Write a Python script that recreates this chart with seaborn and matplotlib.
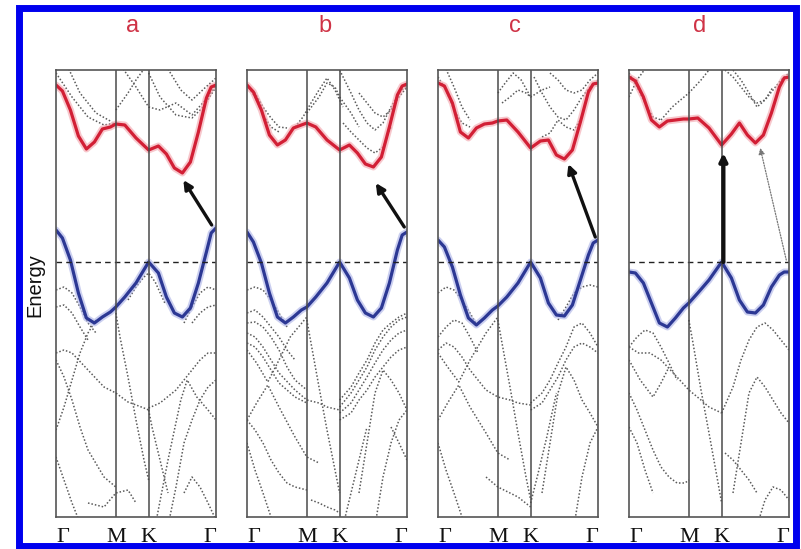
import matplotlib
matplotlib.use("Agg")
import matplotlib.pyplot as plt
import seaborn as sns
import pandas as pd
from matplotlib.patches import Rectangle

# ---------------- data ----------------
panels = ["a", "b", "c", "d"]
k_ticks = [0.0, 0.374, 0.579, 1.0]
k_labels = ["Γ", "M", "K", "Γ"]

k_main = [0, 0.04, 0.09, 0.14, 0.19, 0.24, 0.29, 0.34, 0.374, 0.43, 0.50,
          0.579, 0.64, 0.69, 0.74, 0.79, 0.84, 0.89, 0.94, 0.97, 1.0]

red_a = [1.77, 1.71, 1.52, 1.26, 1.13, 1.20, 1.33, 1.35, 1.38, 1.37, 1.24,
         1.12, 1.16, 1.08, 0.94, 0.89, 1.00, 1.30, 1.64, 1.75, 1.77]
red_b = [1.77, 1.70, 1.52, 1.27, 1.17, 1.22, 1.34, 1.37, 1.39, 1.35, 1.22,
         1.12, 1.17, 1.09, 0.98, 0.95, 1.05, 1.35, 1.67, 1.76, 1.78]
red_c = [1.79, 1.76, 1.59, 1.30, 1.24, 1.34, 1.38, 1.39, 1.41, 1.42, 1.30,
         1.14, 1.21, 1.22, 1.07, 1.03, 1.12, 1.40, 1.70, 1.78, 1.79]
red_d = [1.85, 1.81, 1.65, 1.42, 1.35, 1.41, 1.42, 1.43, 1.43, 1.44, 1.34,
         1.17, 1.28, 1.39, 1.27, 1.19, 1.27, 1.49, 1.75, 1.84, 1.85]

blue_a = [0.32, 0.24, 0.02, -0.31, -0.56, -0.61, -0.55, -0.50, -0.45, -0.35, -0.21,
          0.0, -0.11, -0.35, -0.51, -0.55, -0.46, -0.21, 0.10, 0.29, 0.34]
blue_b = [0.30, 0.20, -0.01, -0.31, -0.55, -0.61, -0.55, -0.48, -0.45, -0.35, -0.21,
          0.0, -0.16, -0.38, -0.51, -0.55, -0.46, -0.21, 0.12, 0.27, 0.30]
blue_c = [0.22, 0.15, -0.05, -0.33, -0.56, -0.63, -0.56, -0.48, -0.44, -0.35, -0.21,
          0.0, -0.16, -0.41, -0.53, -0.54, -0.43, -0.18, 0.07, 0.19, 0.22]
blue_d = [-0.10, -0.11, -0.21, -0.41, -0.61, -0.65, -0.56, -0.46, -0.41, -0.31, -0.18,
          0.0, -0.16, -0.38, -0.50, -0.51, -0.43, -0.25, -0.13, -0.10, -0.10]

# other (dotted) bands: (k list, E list)
other_a = [
    ([0, 0.1, 0.2, 0.3, 0.374], [1.89, 1.65, 1.45, 1.37, 1.39]),
    ([0.08, 0.15, 0.25, 0.35], [1.93, 1.69, 1.49, 1.40]),
    ([0.374, 0.45, 0.5, 0.55], [1.52, 1.69, 1.82, 1.93]),
    ([0.42, 0.5, 0.579, 0.65, 0.75, 0.85, 0.95, 1.0], [1.93, 1.75, 1.55, 1.52, 1.59, 1.47, 1.65, 1.77]),
    ([0.579, 0.65, 0.75, 0.85, 0.92, 1.0], [1.89, 1.65, 1.47, 1.44, 1.55, 1.75]),
    ([0.7, 0.78, 0.85, 0.93, 1.0], [1.93, 1.72, 1.62, 1.74, 1.84]),
    ([0, 0.05, 0.1, 0.15, 0.2, 0.25], [-0.28, -0.25, -0.31, -0.45, -0.61, -0.71]),
    ([0, 0.05, 0.1, 0.15, 0.2], [-0.45, -0.43, -0.51, -0.65, -0.78]),
    ([0.8, 0.85, 0.9, 0.95, 1.0], [-0.61, -0.45, -0.31, -0.25, -0.28]),
    ([0.85, 0.9, 0.95, 1.0], [-0.61, -0.51, -0.45, -0.43]),
    ([0.45, 0.5, 0.55, 0.579, 0.62, 0.68], [-0.38, -0.25, -0.15, -0.11, -0.20, -0.41]),
    ([0, 0.05, 0.1, 0.2, 0.3, 0.374, 0.45, 0.55, 0.579], [-0.91, -0.88, -0.91, -1.08, -1.25, -1.31, -1.40, -1.46, -1.48]),
    ([0.579, 0.65, 0.75, 0.85, 0.9, 0.95, 1.0], [-1.46, -1.41, -1.28, -1.08, -0.98, -0.91, -0.91]),
    ([0, 0.05, 0.1, 0.15, 0.2, 0.25], [-1.68, -1.45, -1.18, -0.91, -0.71, -0.58]),
    ([0, 0.05, 0.1, 0.15, 0.2, 0.3, 0.374], [-0.98, -1.15, -1.38, -1.65, -1.88, -2.15, -2.25]),
    ([0.374, 0.4, 0.45, 0.5, 0.55, 0.579], [-0.51, -0.75, -1.15, -1.58, -1.98, -2.18]),
    ([0, 0.05, 0.1, 0.15], [-1.95, -2.18, -2.41, -2.61]),
    ([0.2, 0.3, 0.374, 0.45, 0.5], [-2.41, -2.45, -2.31, -2.28, -2.41]),
    ([0.62, 0.7, 0.78, 0.82, 0.88, 0.95, 1.0], [-2.64, -1.98, -1.38, -1.18, -1.35, -1.48, -1.58]),
    ([0.7, 0.75, 0.8, 0.85, 0.9, 0.95, 1.0], [-2.64, -2.25, -1.81, -1.58, -1.38, -1.25, -1.18]),
    ([0.579, 0.6, 0.65, 0.7], [-1.48, -1.65, -1.98, -2.31]),
    ([0.8, 0.85, 0.9, 0.95, 1.0], [-2.31, -2.15, -2.25, -2.41, -2.58]),
]
other_b = [
    ([0, 0.05, 0.1, 0.15, 0.2, 0.25], [1.77, 1.69, 1.55, 1.44, 1.35, 1.34]),
    ([0, 0.05, 0.1, 0.15, 0.2], [1.77, 1.65, 1.47, 1.35, 1.30]),
    ([0.3, 0.35, 0.4, 0.45, 0.5, 0.55, 0.6], [1.35, 1.45, 1.59, 1.72, 1.84, 1.72, 1.55]),
    ([0.374, 0.45, 0.5, 0.55, 0.579, 0.65, 0.7], [1.49, 1.65, 1.79, 1.75, 1.65, 1.49, 1.35]),
    ([0.579, 0.65, 0.7, 0.75, 0.8, 0.85, 0.9, 0.95, 1.0], [1.92, 1.69, 1.52, 1.39, 1.32, 1.39, 1.55, 1.69, 1.77]),
    ([0.6, 0.65, 0.7, 0.75, 0.8, 0.85, 0.9], [1.39, 1.30, 1.22, 1.14, 1.09, 1.15, 1.35]),
    ([0.7, 0.75, 0.8, 0.85, 0.9, 0.95, 1.0], [1.69, 1.59, 1.49, 1.45, 1.52, 1.65, 1.75]),
    ([0, 0.05, 0.1, 0.15, 0.2, 0.25], [-0.28, -0.25, -0.28, -0.38, -0.51, -0.65]),
    ([0, 0.05, 0.1, 0.15, 0.2, 0.25, 0.3], [-0.51, -0.48, -0.55, -0.65, -0.75, -0.88, -0.98]),
    ([0, 0.05, 0.1, 0.15, 0.2, 0.25, 0.3, 0.374], [-0.61, -0.60, -0.65, -0.75, -0.88, -1.05, -1.18, -1.28]),
    ([0, 0.05, 0.1, 0.15, 0.2, 0.3, 0.374, 0.45, 0.5, 0.579], [-0.71, -0.75, -0.85, -0.98, -1.11, -1.28, -1.38, -1.41, -1.45, -1.48]),
    ([0, 0.05, 0.1, 0.15, 0.2, 0.3, 0.374], [-0.81, -0.85, -0.95, -1.08, -1.21, -1.35, -1.41]),
    ([0, 0.06, 0.13, 0.2, 0.27, 0.374], [-0.88, -1.01, -1.20, -0.98, -0.75, -0.55]),
    ([0, 0.06, 0.13, 0.2, 0.3, 0.374, 0.45], [-1.58, -1.41, -1.23, -1.45, -1.75, -1.95, -2.01]),
    ([0.374, 0.4, 0.45, 0.5, 0.55, 0.579], [-0.58, -0.81, -1.25, -1.68, -2.08, -2.31]),
    ([0.579, 0.65, 0.7, 0.75, 0.8, 0.85, 0.9, 0.95, 1.0], [-1.45, -1.31, -1.18, -1.05, -0.88, -0.75, -0.65, -0.58, -0.55]),
    ([0.579, 0.65, 0.7, 0.75, 0.8, 0.85, 0.9, 0.95, 1.0], [-1.51, -1.41, -1.28, -1.15, -1.01, -0.88, -0.78, -0.71, -0.68]),
    ([0.579, 0.65, 0.7, 0.75, 0.8, 0.85, 0.9, 0.95, 1.0], [-1.58, -1.51, -1.38, -1.28, -1.15, -1.05, -0.95, -0.88, -0.85]),
    ([0.579, 0.65, 0.7, 0.75, 0.8, 0.85, 0.9, 0.95, 1.0], [-1.38, -1.25, -1.11, -0.98, -0.81, -0.68, -0.61, -0.55, -0.51]),
    ([0.7, 0.75, 0.8, 0.85, 0.9, 0.95, 1.0], [-2.31, -1.81, -1.31, -1.08, -1.18, -1.31, -1.48]),
    ([0.8, 0.85, 0.9, 0.95, 1.0], [-2.64, -2.15, -1.81, -1.58, -1.48]),
    ([0, 0.05, 0.1, 0.15, 0.2, 0.25, 0.3, 0.374], [-1.58, -1.68, -1.81, -1.98, -2.11, -2.21, -2.25, -2.28]),
    ([0, 0.05, 0.1, 0.15], [-1.81, -2.08, -2.31, -2.55]),
    ([0.4, 0.45, 0.5, 0.55, 0.579], [-2.38, -2.41, -2.45, -2.48, -2.51]),
    ([0.6, 0.65, 0.7, 0.75], [-2.64, -2.31, -1.98, -1.65]),
    ([0.9, 0.95, 1.0], [-1.65, -1.81, -1.98]),
]
other_c = [
    ([0, 0.05, 0.1, 0.15, 0.2], [1.85, 1.72, 1.52, 1.39, 1.35]),
    ([0.05, 0.1, 0.15, 0.2], [1.93, 1.75, 1.55, 1.42]),
    ([0.374, 0.42, 0.47, 0.52, 0.579], [1.69, 1.79, 1.89, 1.82, 1.65]),
    ([0.4, 0.45, 0.5, 0.55, 0.579, 0.65, 0.7], [1.59, 1.65, 1.72, 1.69, 1.65, 1.72, 1.75]),
    ([0.6, 0.65, 0.7, 0.75, 0.8, 0.85, 0.9, 0.95, 1.0], [1.85, 1.69, 1.55, 1.45, 1.42, 1.52, 1.65, 1.75, 1.82]),
    ([0.65, 0.7, 0.75, 0.8, 0.85, 0.9], [1.25, 1.29, 1.42, 1.35, 1.32, 1.45]),
    ([0.7, 0.75, 0.8, 0.85, 0.9, 0.95, 1.0], [1.89, 1.82, 1.72, 1.69, 1.72, 1.82, 1.89]),
    ([0, 0.05, 0.1, 0.15, 0.2, 0.25], [-0.31, -0.25, -0.28, -0.38, -0.51, -0.65]),
    ([0.75, 0.8, 0.85, 0.9, 0.95, 1.0], [-0.58, -0.45, -0.31, -0.25, -0.23, -0.25]),
    ([0, 0.05, 0.1, 0.15, 0.2, 0.25], [-0.75, -0.65, -0.58, -0.61, -0.75, -0.91]),
    ([0, 0.05, 0.1, 0.15, 0.2, 0.3, 0.374, 0.45, 0.5, 0.579], [-0.88, -0.81, -0.85, -0.95, -1.08, -1.28, -1.35, -1.38, -1.41, -1.43]),
    ([0, 0.06, 0.13, 0.2, 0.3, 0.374], [-0.91, -1.05, -1.20, -0.98, -0.71, -0.55]),
    ([0, 0.06, 0.13, 0.2, 0.3, 0.374, 0.45], [-1.58, -1.41, -1.23, -1.45, -1.71, -1.91, -1.98]),
    ([0.374, 0.4, 0.45, 0.5, 0.55, 0.579], [-0.58, -0.81, -1.25, -1.71, -2.15, -2.38]),
    ([0.579, 0.65, 0.7, 0.75, 0.8, 0.85, 0.9, 0.95, 1.0], [-1.41, -1.31, -1.18, -1.01, -0.85, -0.65, -0.61, -0.71, -0.85]),
    ([0.579, 0.65, 0.7, 0.75, 0.8, 0.85, 0.9, 0.95, 1.0], [-1.48, -1.41, -1.28, -1.15, -0.98, -0.85, -0.81, -0.85, -0.91]),
    ([0.65, 0.7, 0.75, 0.8, 0.85, 0.9, 0.95, 1.0], [-2.31, -1.81, -1.31, -1.05, -1.18, -1.38, -1.51, -1.65]),
    ([0, 0.05, 0.1, 0.15], [-1.81, -2.08, -2.31, -2.55]),
    ([0.3, 0.374, 0.45, 0.5, 0.579], [-2.15, -2.25, -2.31, -2.35, -2.45]),
    ([0.85, 0.9, 0.95, 1.0], [-2.64, -2.15, -1.81, -1.65]),
    ([0.579, 0.62, 0.68, 0.74], [-2.41, -2.15, -1.75, -1.31]),
]
other_d = [
    ([0, 0.05, 0.1, 0.15, 0.2], [1.89, 1.75, 1.59, 1.45, 1.42]),
    ([0, 0.05, 0.1], [1.65, 1.82, 1.93]),
    ([0.2, 0.27, 0.374, 0.45, 0.5], [1.42, 1.55, 1.69, 1.82, 1.92]),
    ([0.6, 0.65, 0.7, 0.75, 0.8, 0.85, 0.9, 0.95, 1.0], [1.92, 1.85, 1.75, 1.65, 1.59, 1.62, 1.72, 1.82, 1.89]),
    ([0.65, 0.7, 0.75, 0.8, 0.85, 0.9], [1.92, 1.82, 1.69, 1.55, 1.62, 1.75]),
    ([0, 0.05, 0.1, 0.15, 0.2, 0.25, 0.3], [-0.85, -0.75, -0.68, -0.71, -0.85, -1.01, -1.18]),
    ([0, 0.06, 0.13, 0.2, 0.3, 0.374, 0.45, 0.5, 0.579], [-0.85, -0.91, -0.91, -0.98, -1.15, -1.28, -1.38, -1.45, -1.51]),
    ([0, 0.07, 0.15, 0.2, 0.25], [-0.98, -1.18, -1.35, -1.21, -1.05]),
    ([0.374, 0.4, 0.45, 0.5, 0.55, 0.579], [-0.58, -0.81, -1.28, -1.71, -2.15, -2.41]),
    ([0.579, 0.65, 0.7, 0.75, 0.8, 0.85, 0.9, 0.95, 1.0], [-1.51, -1.25, -0.98, -0.78, -0.65, -0.61, -0.68, -0.78, -0.88]),
    ([0.65, 0.7, 0.75, 0.8, 0.85, 0.9, 0.95, 1.0], [-2.31, -1.81, -1.31, -1.15, -1.25, -1.38, -1.51, -1.61]),
    ([0, 0.05, 0.1, 0.15, 0.2, 0.25, 0.3, 0.35, 0.374], [-1.31, -1.48, -1.68, -1.88, -2.05, -2.15, -2.21, -2.21, -2.18]),
    ([0, 0.05, 0.1, 0.15], [-1.65, -1.81, -2.08, -2.31]),
    ([0.6, 0.65, 0.7, 0.75, 0.8], [-1.91, -1.98, -2.08, -2.18, -2.31]),
    ([0.8, 0.85, 0.9, 0.95, 1.0], [-2.64, -2.38, -2.25, -2.28, -2.38]),
]

# arrows (k, E): start -> end
arrow_start = {"a": (0.973, 0.37), "b": (0.983, 0.35), "c": (0.983, 0.25), "d": (0.59, 0.0)}
arrow_end = {"a": (0.796, 0.82), "b": (0.805, 0.79), "c": (0.815, 0.98), "d": (0.59, 1.09)}
arrow2_start_d = (0.983, 0.02)
arrow2_end_d = (0.82, 1.14)

red = {"a": red_a, "b": red_b, "c": red_c, "d": red_d}
blue = {"a": blue_a, "b": blue_b, "c": blue_c, "d": blue_d}
others = {"a": other_a, "b": other_b, "c": other_c, "d": other_d}

# ---------------- figure ----------------
sns.set_style("white")
plt.rcParams["font.family"] = ["Liberation Sans", "DejaVu Sans"]

W, H = 801, 549
fig = plt.figure(figsize=(W / 100, H / 100), dpi=100)
panel_left = {"a": 56, "b": 247, "c": 438, "d": 629}
label_x = {"a": 133, "b": 325, "c": 515, "d": 700}
pw, top, bot = 160, 70, 517

for p in panels:
    ax = fig.add_axes([panel_left[p] / W, 1 - bot / H, pw / W, (bot - top) / H])
    rows = []
    for i, (kk, ee) in enumerate(others[p]):
        for x, y in zip(kk, ee):
            rows.append({"band": i, "k": x, "E": y})
    df = pd.DataFrame(rows)
    sns.lineplot(data=df, x="k", y="E", units="band", estimator=None, sort=False,
                 color="#5a5a5a", lw=1.1, linestyle=(0, (1, 1.3)), ax=ax)
    # main bands with soft halo
    for vals, halo, core in ((red[p], "#f3a2ab", "#d21f35"), (blue[p], "#a9b0e6", "#2c3894")):
        sns.lineplot(x=k_main, y=vals, ax=ax, color=halo, lw=5, alpha=0.6, sort=False,
                     solid_joinstyle="round", solid_capstyle="round")
        sns.lineplot(x=k_main, y=vals, ax=ax, color=core, lw=2.3, sort=False,
                     solid_joinstyle="round", solid_capstyle="round")

    ax.axhline(0, color="#222222", lw=1.0, ls=(0, (4, 3)))
    for kv in k_ticks[1:3]:
        ax.axvline(kv, color="#4a4a4a", lw=1.1)

    if p == "d":
        ax.annotate("", xy=arrow2_end_d, xytext=arrow2_start_d,
                    arrowprops=dict(arrowstyle="-|>", color="#777777", lw=0.9,
                                    linestyle=(0, (1, 1.2)), mutation_scale=9,
                                    shrinkA=0, shrinkB=0))
        ax.annotate("", xy=arrow_end[p], xytext=arrow_start[p],
                    arrowprops=dict(arrowstyle="-|>", color="#111111", lw=3.0,
                                    mutation_scale=11, shrinkA=0, shrinkB=0))
    else:
        ax.annotate("", xy=arrow_end[p], xytext=arrow_start[p],
                    arrowprops=dict(arrowstyle="-|>", color="#111111", lw=2.4,
                                    mutation_scale=13, shrinkA=0, shrinkB=0))

    ax.set_xlim(0, 1)
    ax.set_ylim(-2.55, 1.92)
    ax.set_xlabel("")
    ax.set_ylabel("")
    ax.set_yticks([])
    ax.set_xticks(k_ticks)
    ax.set_xticklabels(k_labels, fontfamily=["Liberation Serif", "DejaVu Serif"],
                       fontsize=16, color="#111111")
    tl = ax.get_xticklabels()
    tl[0].set_ha("left")
    tl[-1].set_ha("right")
    ax.tick_params(axis="x", length=0, pad=8)
    for s in ax.spines.values():
        s.set_color("#555555")
        s.set_linewidth(1.2)
        s.set_visible(True)

    fig.text(label_x[p] / W, 1 - 26 / H, p, color="#cf3346", fontsize=17,
             family=["Liberation Sans Narrow", "Liberation Sans", "DejaVu Sans"],
             ha="center", va="center")

fig.text(35 / W, 1 - 285 / H, "Energy", rotation=90, fontsize=14.5,
         ha="center", va="center", color="#111111")

fig.patches.append(Rectangle((18.5 / W, 1 - 546 / H), (796 - 18.5) / W, (546 - 8) / H,
                             transform=fig.transFigure, fill=False,
                             edgecolor="#0000ee", lw=5.0))

fig.savefig("out.png", dpi=100, facecolor="white")
